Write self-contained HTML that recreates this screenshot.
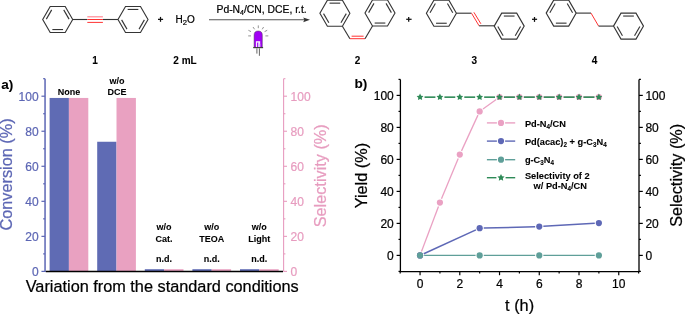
<!DOCTYPE html>
<html><head><meta charset="utf-8"><style>
html,body{margin:0;padding:0;background:#fff;width:685px;height:315px;overflow:hidden}
svg text{font-family:"Liberation Sans",sans-serif;stroke:currentColor;stroke-width:0.22px;paint-order:stroke}
svg text[font-weight="bold"]{stroke-width:0.08px}
svg{will-change:transform}
</style></head><body>
<svg width="685" height="315" viewBox="0 0 685 315" style="display:block">
<rect width="685" height="315" fill="#fff"/>
<polygon points="72.7,19.5 65.2,6.51 50.2,6.51 42.7,19.5 50.2,32.49 65.2,32.49" fill="none" stroke="#353535" stroke-width="1.12" stroke-linejoin="miter"/>
<line x1="69.07" y1="19.1" x2="63.73" y2="9.86" stroke="#353535" stroke-width="1.12"/>
<line x1="51.67" y1="9.86" x2="46.33" y2="19.1" stroke="#353535" stroke-width="1.12"/>
<line x1="52.36" y1="29.55" x2="63.04" y2="29.55" stroke="#353535" stroke-width="1.12"/>
<line x1="72.7" y1="19.5" x2="87.3" y2="19.5" stroke="#353535" stroke-width="1.12"/>
<line x1="102.9" y1="19.5" x2="118" y2="19.5" stroke="#353535" stroke-width="1.12"/>
<line x1="87.3" y1="16.8" x2="102.9" y2="16.8" stroke="#ff8a95" stroke-width="1.2"/>
<line x1="87.3" y1="19.5" x2="102.9" y2="19.5" stroke="#ff3333" stroke-width="1.0"/>
<line x1="87.3" y1="22.4" x2="102.9" y2="22.4" stroke="#ff3333" stroke-width="1.0"/>
<polygon points="148,19.5 140.5,6.51 125.5,6.51 118,19.5 125.5,32.49 140.5,32.49" fill="none" stroke="#353535" stroke-width="1.12" stroke-linejoin="miter"/>
<line x1="138.34" y1="9.45" x2="127.66" y2="9.45" stroke="#353535" stroke-width="1.12"/>
<line x1="121.63" y1="19.9" x2="126.97" y2="29.14" stroke="#353535" stroke-width="1.12"/>
<line x1="139.03" y1="29.14" x2="144.37" y2="19.9" stroke="#353535" stroke-width="1.12"/>
<line x1="158" y1="19.35" x2="163.1" y2="19.35" stroke="#111" stroke-width="1.25"/>
<line x1="160.5" y1="16.9" x2="160.5" y2="21.8" stroke="#111" stroke-width="1.25"/>
<text x="175.6" y="23" font-size="10" text-anchor="start" font-weight="normal" fill="#000" color="#000">H<tspan font-size="7.6" dy="2.3">2</tspan><tspan dy="-2.3">O</tspan></text>
<line x1="209" y1="19.8" x2="305" y2="19.8" stroke="#555" stroke-width="1.1"/>
<polygon points="310,19.8 303.2,17.4 304.4,19.8 303.2,22.2" fill="#333"/>
<text x="216.5" y="12.7" font-size="10.35" text-anchor="start" font-weight="normal" fill="#000" color="#000">Pd-N<tspan font-size="7" dy="2.2">4</tspan><tspan dy="-2.2">/CN, DCE, r.t.</tspan></text>
<g>
<line x1="258.3" y1="25.4" x2="258.3" y2="28.2" stroke="#888" stroke-width="0.9"/>
<line x1="253" y1="27" x2="254.6" y2="29.3" stroke="#888" stroke-width="0.9"/>
<line x1="263.6" y1="27" x2="262.2" y2="29.3" stroke="#888" stroke-width="0.9"/>
<line x1="248.4" y1="30.3" x2="251" y2="31.6" stroke="#888" stroke-width="0.9"/>
<line x1="267.2" y1="30.3" x2="264.6" y2="31.6" stroke="#888" stroke-width="0.9"/>
<line x1="248.2" y1="35.9" x2="251" y2="35.9" stroke="#888" stroke-width="0.9"/>
<line x1="265.4" y1="35.9" x2="268.3" y2="35.9" stroke="#888" stroke-width="0.9"/>
<path d="M254.1,47.3 L254.1,35.1 A4.1,4.1 0 0 1 262.3,35.1 L262.3,47.3 Z" fill="#a100f5" stroke="#4a3a55" stroke-width="0.5"/>
<rect x="255.9" y="41.2" width="4.3" height="5.9" fill="#f4eefc"/>
<rect x="257.1" y="42.6" width="1.2" height="4.5" fill="#a100f5"/>
<path d="M258.3,42.3 L260.2,44.6 L260.2,47.1 L258.3,47.1 Z" fill="#d9c2fb"/>
<rect x="253.2" y="47" width="9.9" height="1.2" fill="#3d3d3d"/>
<line x1="256.9" y1="48.3" x2="256.9" y2="53.6" stroke="#666" stroke-width="1.0"/>
<line x1="259.4" y1="48.3" x2="259.4" y2="55.8" stroke="#666" stroke-width="1.0"/>
</g>
<polygon points="349.9,13.2 342.4,0.21 327.4,0.21 319.9,13.2 327.4,26.19 342.4,26.19" fill="none" stroke="#353535" stroke-width="1.12" stroke-linejoin="miter"/>
<line x1="340.24" y1="3.15" x2="329.56" y2="3.15" stroke="#353535" stroke-width="1.12"/>
<line x1="323.53" y1="13.6" x2="328.87" y2="22.84" stroke="#353535" stroke-width="1.12"/>
<line x1="340.93" y1="22.84" x2="346.27" y2="13.6" stroke="#353535" stroke-width="1.12"/>
<line x1="342.4" y1="26.2" x2="349.9" y2="38.7" stroke="#353535" stroke-width="1.12"/>
<line x1="349.9" y1="38.7" x2="365" y2="38.7" stroke="#ff3333" stroke-width="1.0"/>
<line x1="351.6" y1="36.2" x2="363.6" y2="36.2" stroke="#ff3333" stroke-width="1.0"/>
<line x1="365" y1="38.7" x2="372.5" y2="26" stroke="#353535" stroke-width="1.12"/>
<polygon points="395,13 387.5,0.01 372.5,0.01 365,13 372.5,25.99 387.5,25.99" fill="none" stroke="#353535" stroke-width="1.12" stroke-linejoin="miter"/>
<line x1="391.37" y1="12.6" x2="386.03" y2="3.36" stroke="#353535" stroke-width="1.12"/>
<line x1="373.97" y1="3.36" x2="368.63" y2="12.6" stroke="#353535" stroke-width="1.12"/>
<line x1="374.66" y1="23.05" x2="385.34" y2="23.05" stroke="#353535" stroke-width="1.12"/>
<line x1="406.2" y1="19.3" x2="411.6" y2="19.3" stroke="#111" stroke-width="1.25"/>
<line x1="408.7" y1="16.9" x2="408.7" y2="21.8" stroke="#111" stroke-width="1.25"/>
<polygon points="456.4,13.2 448.9,0.21 433.9,0.21 426.4,13.2 433.9,26.19 448.9,26.19" fill="none" stroke="#353535" stroke-width="1.12" stroke-linejoin="miter"/>
<line x1="452.77" y1="12.8" x2="447.43" y2="3.56" stroke="#353535" stroke-width="1.12"/>
<line x1="435.37" y1="3.56" x2="430.03" y2="12.8" stroke="#353535" stroke-width="1.12"/>
<line x1="436.06" y1="23.25" x2="446.74" y2="23.25" stroke="#353535" stroke-width="1.12"/>
<line x1="456.4" y1="13.2" x2="471.5" y2="13.2" stroke="#353535" stroke-width="1.12"/>
<line x1="471.5" y1="13.2" x2="479.1" y2="25.8" stroke="#ff3333" stroke-width="1.0"/>
<line x1="473.9" y1="12.3" x2="480.9" y2="23.8" stroke="#ff3333" stroke-width="1.0"/>
<line x1="479.1" y1="25.8" x2="494.2" y2="25.8" stroke="#353535" stroke-width="1.12"/>
<polygon points="524.2,26.1 516.7,13.11 501.7,13.11 494.2,26.1 501.7,39.09 516.7,39.09" fill="none" stroke="#353535" stroke-width="1.12" stroke-linejoin="miter"/>
<line x1="514.54" y1="16.05" x2="503.86" y2="16.05" stroke="#353535" stroke-width="1.12"/>
<line x1="497.83" y1="26.5" x2="503.17" y2="35.74" stroke="#353535" stroke-width="1.12"/>
<line x1="515.23" y1="35.74" x2="520.57" y2="26.5" stroke="#353535" stroke-width="1.12"/>
<line x1="532" y1="19.3" x2="537.1" y2="19.3" stroke="#111" stroke-width="1.25"/>
<line x1="534.5" y1="17" x2="534.5" y2="21.9" stroke="#111" stroke-width="1.25"/>
<polygon points="576.2,13.1 568.7,0.11 553.7,0.11 546.2,13.1 553.7,26.09 568.7,26.09" fill="none" stroke="#353535" stroke-width="1.12" stroke-linejoin="miter"/>
<line x1="572.57" y1="12.7" x2="567.23" y2="3.46" stroke="#353535" stroke-width="1.12"/>
<line x1="555.17" y1="3.46" x2="549.83" y2="12.7" stroke="#353535" stroke-width="1.12"/>
<line x1="555.86" y1="23.15" x2="566.54" y2="23.15" stroke="#353535" stroke-width="1.12"/>
<line x1="576.2" y1="13.1" x2="591" y2="13.1" stroke="#353535" stroke-width="1.12"/>
<line x1="591" y1="13.1" x2="598.6" y2="26.1" stroke="#ff3333" stroke-width="1.0"/>
<line x1="598.6" y1="26.1" x2="613.5" y2="26.1" stroke="#353535" stroke-width="1.12"/>
<polygon points="643.5,26.1 636,13.11 621,13.11 613.5,26.1 621,39.09 636,39.09" fill="none" stroke="#353535" stroke-width="1.12" stroke-linejoin="miter"/>
<line x1="633.84" y1="16.05" x2="623.16" y2="16.05" stroke="#353535" stroke-width="1.12"/>
<line x1="617.13" y1="26.5" x2="622.47" y2="35.74" stroke="#353535" stroke-width="1.12"/>
<line x1="634.53" y1="35.74" x2="639.87" y2="26.5" stroke="#353535" stroke-width="1.12"/>
<text x="95" y="63.5" font-size="10" text-anchor="middle" font-weight="bold" fill="#000" color="#000">1</text>
<text x="185" y="63.5" font-size="10" text-anchor="middle" font-weight="bold" fill="#000" color="#000">2 mL</text>
<text x="357.6" y="63.5" font-size="10" text-anchor="middle" font-weight="bold" fill="#000" color="#000">2</text>
<text x="474.3" y="63.5" font-size="10" text-anchor="middle" font-weight="bold" fill="#000" color="#000">3</text>
<text x="594.6" y="63.5" font-size="10" text-anchor="middle" font-weight="bold" fill="#000" color="#000">4</text>
<text x="1.3" y="88.6" font-size="13.6" text-anchor="start" font-weight="bold" fill="#000" color="#000">a)</text>
<rect x="49.6" y="97.95" width="19.3" height="173.45" fill="#5f6bb4"/>
<rect x="68.9" y="97.95" width="19.4" height="173.45" fill="#e9a1c1"/>
<rect x="97.2" y="141.75" width="19.3" height="129.65" fill="#5f6bb4"/>
<rect x="116.5" y="97.95" width="19.4" height="173.45" fill="#e9a1c1"/>
<rect x="144.8" y="269.21" width="19.3" height="2.19" fill="#5f6bb4"/>
<rect x="164.1" y="269.21" width="19.4" height="2.19" fill="#e9a1c1"/>
<rect x="192.4" y="269.21" width="19.3" height="2.19" fill="#5f6bb4"/>
<rect x="211.7" y="269.21" width="19.4" height="2.19" fill="#e9a1c1"/>
<rect x="240" y="269.21" width="19.3" height="2.19" fill="#5f6bb4"/>
<rect x="259.3" y="269.21" width="19.4" height="2.19" fill="#e9a1c1"/>
<line x1="45.05" y1="78.7" x2="45.05" y2="272.1" stroke="#5c66b4" stroke-width="1.5"/>
<line x1="41.45" y1="271.4" x2="45.05" y2="271.4" stroke="#5c66b4" stroke-width="1.2"/>
<text x="38.6" y="275.7" font-size="12" text-anchor="end" font-weight="normal" fill="#5c66b4" color="#5c66b4">0</text>
<line x1="43.15" y1="253.88" x2="45.05" y2="253.88" stroke="#5c66b4" stroke-width="1.2"/>
<line x1="41.45" y1="236.36" x2="45.05" y2="236.36" stroke="#5c66b4" stroke-width="1.2"/>
<text x="38.6" y="240.66" font-size="12" text-anchor="end" font-weight="normal" fill="#5c66b4" color="#5c66b4">20</text>
<line x1="43.15" y1="218.84" x2="45.05" y2="218.84" stroke="#5c66b4" stroke-width="1.2"/>
<line x1="41.45" y1="201.32" x2="45.05" y2="201.32" stroke="#5c66b4" stroke-width="1.2"/>
<text x="38.6" y="205.62" font-size="12" text-anchor="end" font-weight="normal" fill="#5c66b4" color="#5c66b4">40</text>
<line x1="43.15" y1="183.8" x2="45.05" y2="183.8" stroke="#5c66b4" stroke-width="1.2"/>
<line x1="41.45" y1="166.28" x2="45.05" y2="166.28" stroke="#5c66b4" stroke-width="1.2"/>
<text x="38.6" y="170.58" font-size="12" text-anchor="end" font-weight="normal" fill="#5c66b4" color="#5c66b4">60</text>
<line x1="43.15" y1="148.76" x2="45.05" y2="148.76" stroke="#5c66b4" stroke-width="1.2"/>
<line x1="41.45" y1="131.24" x2="45.05" y2="131.24" stroke="#5c66b4" stroke-width="1.2"/>
<text x="38.6" y="135.54" font-size="12" text-anchor="end" font-weight="normal" fill="#5c66b4" color="#5c66b4">80</text>
<line x1="43.15" y1="113.72" x2="45.05" y2="113.72" stroke="#5c66b4" stroke-width="1.2"/>
<line x1="41.45" y1="96.2" x2="45.05" y2="96.2" stroke="#5c66b4" stroke-width="1.2"/>
<text x="38.6" y="100.5" font-size="12" text-anchor="end" font-weight="normal" fill="#5c66b4" color="#5c66b4">100</text>
<line x1="43.15" y1="78.68" x2="45.05" y2="78.68" stroke="#5c66b4" stroke-width="1.2"/>
<line x1="283.6" y1="78.7" x2="283.6" y2="271.4" stroke="#e79cbf" stroke-width="1.1"/>
<line x1="283.6" y1="271.4" x2="287" y2="271.4" stroke="#e79cbf" stroke-width="1.1"/>
<text x="290.6" y="275.7" font-size="12" text-anchor="start" font-weight="normal" fill="#e79cbf" color="#e79cbf">0</text>
<line x1="283.6" y1="253.88" x2="285.4" y2="253.88" stroke="#e79cbf" stroke-width="1.1"/>
<line x1="283.6" y1="236.36" x2="287" y2="236.36" stroke="#e79cbf" stroke-width="1.1"/>
<text x="290.6" y="240.66" font-size="12" text-anchor="start" font-weight="normal" fill="#e79cbf" color="#e79cbf">20</text>
<line x1="283.6" y1="218.84" x2="285.4" y2="218.84" stroke="#e79cbf" stroke-width="1.1"/>
<line x1="283.6" y1="201.32" x2="287" y2="201.32" stroke="#e79cbf" stroke-width="1.1"/>
<text x="290.6" y="205.62" font-size="12" text-anchor="start" font-weight="normal" fill="#e79cbf" color="#e79cbf">40</text>
<line x1="283.6" y1="183.8" x2="285.4" y2="183.8" stroke="#e79cbf" stroke-width="1.1"/>
<line x1="283.6" y1="166.28" x2="287" y2="166.28" stroke="#e79cbf" stroke-width="1.1"/>
<text x="290.6" y="170.58" font-size="12" text-anchor="start" font-weight="normal" fill="#e79cbf" color="#e79cbf">60</text>
<line x1="283.6" y1="148.76" x2="285.4" y2="148.76" stroke="#e79cbf" stroke-width="1.1"/>
<line x1="283.6" y1="131.24" x2="287" y2="131.24" stroke="#e79cbf" stroke-width="1.1"/>
<text x="290.6" y="135.54" font-size="12" text-anchor="start" font-weight="normal" fill="#e79cbf" color="#e79cbf">80</text>
<line x1="283.6" y1="113.72" x2="285.4" y2="113.72" stroke="#e79cbf" stroke-width="1.1"/>
<line x1="283.6" y1="96.2" x2="287" y2="96.2" stroke="#e79cbf" stroke-width="1.1"/>
<text x="290.6" y="100.5" font-size="12" text-anchor="start" font-weight="normal" fill="#e79cbf" color="#e79cbf">100</text>
<line x1="283.6" y1="78.68" x2="285.4" y2="78.68" stroke="#e79cbf" stroke-width="1.1"/>
<line x1="45.8" y1="271.5" x2="283" y2="271.5" stroke="#000" stroke-width="1.3"/>
<text x="68.9" y="94.9" font-size="9" text-anchor="middle" font-weight="bold" fill="#000" color="#000">None</text>
<text x="117" y="83.9" font-size="9" text-anchor="middle" font-weight="bold" fill="#000" color="#000">w/o</text>
<text x="117.1" y="95" font-size="9" text-anchor="middle" font-weight="bold" fill="#000" color="#000">DCE</text>
<text x="164.1" y="230.3" font-size="9" text-anchor="middle" font-weight="bold" fill="#000" color="#000">w/o</text>
<text x="164.1" y="241.7" font-size="9" text-anchor="middle" font-weight="bold" fill="#000" color="#000">Cat.</text>
<text x="164.1" y="261.8" font-size="9" text-anchor="middle" font-weight="bold" fill="#000" color="#000">n.d.</text>
<text x="211.7" y="230.3" font-size="9" text-anchor="middle" font-weight="bold" fill="#000" color="#000">w/o</text>
<text x="211.7" y="241.7" font-size="9" text-anchor="middle" font-weight="bold" fill="#000" color="#000">TEOA</text>
<text x="211.7" y="261.8" font-size="9" text-anchor="middle" font-weight="bold" fill="#000" color="#000">n.d.</text>
<text x="259.3" y="230.3" font-size="9" text-anchor="middle" font-weight="bold" fill="#000" color="#000">w/o</text>
<text x="259.3" y="241.7" font-size="9" text-anchor="middle" font-weight="bold" fill="#000" color="#000">Light</text>
<text x="259.3" y="261.8" font-size="9" text-anchor="middle" font-weight="bold" fill="#000" color="#000">n.d.</text>
<text x="162.2" y="291.7" font-size="16.3" text-anchor="middle" font-weight="normal" fill="#000" color="#000">Variation from the standard conditions</text>
<text transform="translate(12.1,174.5) rotate(-90)" font-size="16.3" text-anchor="middle" fill="#5c66b4" color="#5c66b4">Conversion (%)</text>
<text transform="translate(325.6,175.8) rotate(-90)" font-size="16.3" text-anchor="middle" fill="#e79cbf" color="#e79cbf">Selectivity (%)</text>
<text x="354.5" y="88.2" font-size="13.6" text-anchor="start" font-weight="bold" fill="#000" color="#000">b)</text>
<line x1="400.4" y1="79.4" x2="400.4" y2="271.6" stroke="#000" stroke-width="1.3"/>
<line x1="639" y1="79.4" x2="639" y2="271.6" stroke="#000" stroke-width="1.3"/>
<line x1="399.8" y1="271.6" x2="639.6" y2="271.6" stroke="#000" stroke-width="1.3"/>
<line x1="398.5" y1="271.4" x2="400.4" y2="271.4" stroke="#000" stroke-width="1.2"/>
<line x1="639" y1="271.4" x2="640.9" y2="271.4" stroke="#000" stroke-width="1.2"/>
<line x1="396.6" y1="255.4" x2="400.4" y2="255.4" stroke="#000" stroke-width="1.2"/>
<line x1="639" y1="255.4" x2="642.8" y2="255.4" stroke="#000" stroke-width="1.2"/>
<text x="393.8" y="259.7" font-size="12" text-anchor="end" font-weight="normal" fill="#000" color="#000">0</text>
<text x="645.4" y="259.7" font-size="12" text-anchor="start" font-weight="normal" fill="#000" color="#000">0</text>
<line x1="398.5" y1="239.4" x2="400.4" y2="239.4" stroke="#000" stroke-width="1.2"/>
<line x1="639" y1="239.4" x2="640.9" y2="239.4" stroke="#000" stroke-width="1.2"/>
<line x1="396.6" y1="223.4" x2="400.4" y2="223.4" stroke="#000" stroke-width="1.2"/>
<line x1="639" y1="223.4" x2="642.8" y2="223.4" stroke="#000" stroke-width="1.2"/>
<text x="393.8" y="227.7" font-size="12" text-anchor="end" font-weight="normal" fill="#000" color="#000">20</text>
<text x="645.4" y="227.7" font-size="12" text-anchor="start" font-weight="normal" fill="#000" color="#000">20</text>
<line x1="398.5" y1="207.4" x2="400.4" y2="207.4" stroke="#000" stroke-width="1.2"/>
<line x1="639" y1="207.4" x2="640.9" y2="207.4" stroke="#000" stroke-width="1.2"/>
<line x1="396.6" y1="191.4" x2="400.4" y2="191.4" stroke="#000" stroke-width="1.2"/>
<line x1="639" y1="191.4" x2="642.8" y2="191.4" stroke="#000" stroke-width="1.2"/>
<text x="393.8" y="195.7" font-size="12" text-anchor="end" font-weight="normal" fill="#000" color="#000">40</text>
<text x="645.4" y="195.7" font-size="12" text-anchor="start" font-weight="normal" fill="#000" color="#000">40</text>
<line x1="398.5" y1="175.4" x2="400.4" y2="175.4" stroke="#000" stroke-width="1.2"/>
<line x1="639" y1="175.4" x2="640.9" y2="175.4" stroke="#000" stroke-width="1.2"/>
<line x1="396.6" y1="159.4" x2="400.4" y2="159.4" stroke="#000" stroke-width="1.2"/>
<line x1="639" y1="159.4" x2="642.8" y2="159.4" stroke="#000" stroke-width="1.2"/>
<text x="393.8" y="163.7" font-size="12" text-anchor="end" font-weight="normal" fill="#000" color="#000">60</text>
<text x="645.4" y="163.7" font-size="12" text-anchor="start" font-weight="normal" fill="#000" color="#000">60</text>
<line x1="398.5" y1="143.4" x2="400.4" y2="143.4" stroke="#000" stroke-width="1.2"/>
<line x1="639" y1="143.4" x2="640.9" y2="143.4" stroke="#000" stroke-width="1.2"/>
<line x1="396.6" y1="127.4" x2="400.4" y2="127.4" stroke="#000" stroke-width="1.2"/>
<line x1="639" y1="127.4" x2="642.8" y2="127.4" stroke="#000" stroke-width="1.2"/>
<text x="393.8" y="131.7" font-size="12" text-anchor="end" font-weight="normal" fill="#000" color="#000">80</text>
<text x="645.4" y="131.7" font-size="12" text-anchor="start" font-weight="normal" fill="#000" color="#000">80</text>
<line x1="398.5" y1="111.4" x2="400.4" y2="111.4" stroke="#000" stroke-width="1.2"/>
<line x1="639" y1="111.4" x2="640.9" y2="111.4" stroke="#000" stroke-width="1.2"/>
<line x1="396.6" y1="95.4" x2="400.4" y2="95.4" stroke="#000" stroke-width="1.2"/>
<line x1="639" y1="95.4" x2="642.8" y2="95.4" stroke="#000" stroke-width="1.2"/>
<text x="393.8" y="99.7" font-size="12" text-anchor="end" font-weight="normal" fill="#000" color="#000">100</text>
<text x="645.4" y="99.7" font-size="12" text-anchor="start" font-weight="normal" fill="#000" color="#000">100</text>
<line x1="398.5" y1="79.4" x2="400.4" y2="79.4" stroke="#000" stroke-width="1.2"/>
<line x1="639" y1="79.4" x2="640.9" y2="79.4" stroke="#000" stroke-width="1.2"/>
<line x1="400.18" y1="271.6" x2="400.18" y2="273.4" stroke="#000" stroke-width="1.2"/>
<line x1="420.05" y1="271.6" x2="420.05" y2="275.2" stroke="#000" stroke-width="1.2"/>
<text x="420.05" y="287.8" font-size="12" text-anchor="middle" font-weight="normal" fill="#000" color="#000">0</text>
<line x1="439.92" y1="271.6" x2="439.92" y2="273.4" stroke="#000" stroke-width="1.2"/>
<line x1="459.79" y1="271.6" x2="459.79" y2="275.2" stroke="#000" stroke-width="1.2"/>
<text x="459.79" y="287.8" font-size="12" text-anchor="middle" font-weight="normal" fill="#000" color="#000">2</text>
<line x1="479.66" y1="271.6" x2="479.66" y2="273.4" stroke="#000" stroke-width="1.2"/>
<line x1="499.53" y1="271.6" x2="499.53" y2="275.2" stroke="#000" stroke-width="1.2"/>
<text x="499.53" y="287.8" font-size="12" text-anchor="middle" font-weight="normal" fill="#000" color="#000">4</text>
<line x1="519.4" y1="271.6" x2="519.4" y2="273.4" stroke="#000" stroke-width="1.2"/>
<line x1="539.27" y1="271.6" x2="539.27" y2="275.2" stroke="#000" stroke-width="1.2"/>
<text x="539.27" y="287.8" font-size="12" text-anchor="middle" font-weight="normal" fill="#000" color="#000">6</text>
<line x1="559.14" y1="271.6" x2="559.14" y2="273.4" stroke="#000" stroke-width="1.2"/>
<line x1="579.01" y1="271.6" x2="579.01" y2="275.2" stroke="#000" stroke-width="1.2"/>
<text x="579.01" y="287.8" font-size="12" text-anchor="middle" font-weight="normal" fill="#000" color="#000">8</text>
<line x1="598.88" y1="271.6" x2="598.88" y2="273.4" stroke="#000" stroke-width="1.2"/>
<line x1="618.75" y1="271.6" x2="618.75" y2="275.2" stroke="#000" stroke-width="1.2"/>
<text x="618.75" y="287.8" font-size="12" text-anchor="middle" font-weight="normal" fill="#000" color="#000">10</text>
<line x1="638.62" y1="271.6" x2="638.62" y2="273.4" stroke="#000" stroke-width="1.2"/>
<text x="519.6" y="311.2" font-size="16.3" text-anchor="middle" font-weight="normal" fill="#000" color="#000">t (h)</text>
<text transform="translate(366.6,175.6) rotate(-90)" font-size="16.3" text-anchor="middle" fill="#000">Yield (%)</text>
<text transform="translate(681.6,175.3) rotate(-90)" font-size="16.3" text-anchor="middle" fill="#000">Selectivity (%)</text>
<line x1="421.49" y1="251.56" x2="438.48" y2="206.44" stroke="#eaa1c3" stroke-width="1.3"/>
<line x1="441.49" y1="198.81" x2="458.22" y2="158.39" stroke="#eaa1c3" stroke-width="1.3"/>
<line x1="461.5" y1="150.88" x2="477.95" y2="115.12" stroke="#eaa1c3" stroke-width="1.3"/>
<line x1="482.98" y1="108.99" x2="496.21" y2="99.41" stroke="#eaa1c3" stroke-width="1.3"/>
<line x1="503.63" y1="97" x2="515.3" y2="97" stroke="#eaa1c3" stroke-width="1.3"/>
<line x1="523.5" y1="97" x2="535.17" y2="97" stroke="#eaa1c3" stroke-width="1.3"/>
<line x1="543.37" y1="97" x2="555.04" y2="97" stroke="#eaa1c3" stroke-width="1.3"/>
<line x1="563.24" y1="97" x2="574.91" y2="97" stroke="#eaa1c3" stroke-width="1.3"/>
<line x1="583.11" y1="97" x2="594.78" y2="97" stroke="#eaa1c3" stroke-width="1.3"/>
<circle cx="420.05" cy="255.4" r="3.1" fill="#eaa1c3"/>
<circle cx="439.92" cy="202.6" r="3.1" fill="#eaa1c3"/>
<circle cx="459.79" cy="154.6" r="3.1" fill="#eaa1c3"/>
<circle cx="479.66" cy="111.4" r="3.1" fill="#eaa1c3"/>
<circle cx="499.53" cy="97" r="3.1" fill="#eaa1c3"/>
<circle cx="519.4" cy="97" r="3.1" fill="#eaa1c3"/>
<circle cx="539.27" cy="97" r="3.1" fill="#eaa1c3"/>
<circle cx="559.14" cy="97" r="3.1" fill="#eaa1c3"/>
<circle cx="579.01" cy="97" r="3.1" fill="#eaa1c3"/>
<circle cx="598.88" cy="97" r="3.1" fill="#eaa1c3"/>
<line x1="423.78" y1="253.7" x2="475.93" y2="229.9" stroke="#5e68b6" stroke-width="1.5"/>
<line x1="483.76" y1="228.09" x2="535.17" y2="226.71" stroke="#5e68b6" stroke-width="1.5"/>
<line x1="543.36" y1="226.36" x2="594.79" y2="223.32" stroke="#5e68b6" stroke-width="1.5"/>
<circle cx="420.05" cy="255.4" r="3.1" fill="#5e68b6"/>
<circle cx="479.66" cy="228.2" r="3.1" fill="#5e68b6"/>
<circle cx="539.27" cy="226.6" r="3.1" fill="#5e68b6"/>
<circle cx="598.88" cy="223.08" r="3.1" fill="#5e68b6"/>
<line x1="424.15" y1="255.4" x2="475.56" y2="255.4" stroke="#5f9f99" stroke-width="1.3"/>
<line x1="483.76" y1="255.4" x2="535.17" y2="255.4" stroke="#5f9f99" stroke-width="1.3"/>
<line x1="543.37" y1="255.4" x2="594.78" y2="255.4" stroke="#5f9f99" stroke-width="1.3"/>
<circle cx="420.05" cy="255.4" r="3.1" fill="#5f9f99"/>
<circle cx="479.66" cy="255.4" r="3.1" fill="#5f9f99"/>
<circle cx="539.27" cy="255.4" r="3.1" fill="#5f9f99"/>
<circle cx="598.88" cy="255.4" r="3.1" fill="#5f9f99"/>
<line x1="424.55" y1="97.16" x2="435.42" y2="97.16" stroke="#2e8a57" stroke-width="1.6"/>
<line x1="444.42" y1="97.16" x2="455.29" y2="97.16" stroke="#2e8a57" stroke-width="1.6"/>
<line x1="464.29" y1="97.16" x2="475.16" y2="97.16" stroke="#2e8a57" stroke-width="1.6"/>
<line x1="484.16" y1="97.16" x2="495.03" y2="97.16" stroke="#2e8a57" stroke-width="1.6"/>
<line x1="504.03" y1="97.16" x2="514.9" y2="97.16" stroke="#2e8a57" stroke-width="1.6"/>
<line x1="523.9" y1="97.16" x2="534.77" y2="97.16" stroke="#2e8a57" stroke-width="1.6"/>
<line x1="543.77" y1="97.16" x2="554.64" y2="97.16" stroke="#2e8a57" stroke-width="1.6"/>
<line x1="563.64" y1="97.16" x2="574.51" y2="97.16" stroke="#2e8a57" stroke-width="1.6"/>
<line x1="583.51" y1="97.16" x2="594.38" y2="97.16" stroke="#2e8a57" stroke-width="1.6"/>
<polygon points="420.05,93.61 421.14,95.67 423.43,96.06 421.81,97.73 422.14,100.03 420.05,99.01 417.96,100.03 418.29,97.73 416.67,96.06 418.96,95.67" fill="#2e8a57"/>
<polygon points="439.92,93.61 441.01,95.67 443.3,96.06 441.68,97.73 442.01,100.03 439.92,99.01 437.83,100.03 438.16,97.73 436.54,96.06 438.83,95.67" fill="#2e8a57"/>
<polygon points="459.79,93.61 460.88,95.67 463.17,96.06 461.55,97.73 461.88,100.03 459.79,99.01 457.7,100.03 458.03,97.73 456.41,96.06 458.7,95.67" fill="#2e8a57"/>
<polygon points="479.66,93.61 480.75,95.67 483.04,96.06 481.42,97.73 481.75,100.03 479.66,99.01 477.57,100.03 477.9,97.73 476.28,96.06 478.57,95.67" fill="#2e8a57"/>
<polygon points="499.53,93.61 500.62,95.67 502.91,96.06 501.29,97.73 501.62,100.03 499.53,99.01 497.44,100.03 497.77,97.73 496.15,96.06 498.44,95.67" fill="#2e8a57"/>
<polygon points="519.4,93.61 520.49,95.67 522.78,96.06 521.16,97.73 521.49,100.03 519.4,99.01 517.31,100.03 517.64,97.73 516.02,96.06 518.31,95.67" fill="#2e8a57"/>
<polygon points="539.27,93.61 540.36,95.67 542.65,96.06 541.03,97.73 541.36,100.03 539.27,99.01 537.18,100.03 537.51,97.73 535.89,96.06 538.18,95.67" fill="#2e8a57"/>
<polygon points="559.14,93.61 560.23,95.67 562.52,96.06 560.9,97.73 561.23,100.03 559.14,99.01 557.05,100.03 557.38,97.73 555.76,96.06 558.05,95.67" fill="#2e8a57"/>
<polygon points="579.01,93.61 580.1,95.67 582.39,96.06 580.77,97.73 581.1,100.03 579.01,99.01 576.92,100.03 577.25,97.73 575.63,96.06 577.92,95.67" fill="#2e8a57"/>
<polygon points="598.88,93.61 599.97,95.67 602.26,96.06 600.64,97.73 600.97,100.03 598.88,99.01 596.79,100.03 597.12,97.73 595.5,96.06 597.79,95.67" fill="#2e8a57"/>
<line x1="486.9" y1="122.9" x2="496.9" y2="122.9" stroke="#eaa1c3" stroke-width="1.4"/>
<line x1="505.1" y1="122.9" x2="515.2" y2="122.9" stroke="#eaa1c3" stroke-width="1.4"/>
<circle cx="501.0" cy="122.9" r="3.1" fill="#eaa1c3"/>
<line x1="486.9" y1="141.1" x2="496.9" y2="141.1" stroke="#5e68b6" stroke-width="1.4"/>
<line x1="505.1" y1="141.1" x2="515.2" y2="141.1" stroke="#5e68b6" stroke-width="1.4"/>
<circle cx="501.0" cy="141.1" r="3.1" fill="#5e68b6"/>
<line x1="486.9" y1="159.7" x2="496.9" y2="159.7" stroke="#5f9f99" stroke-width="1.4"/>
<line x1="505.1" y1="159.7" x2="515.2" y2="159.7" stroke="#5f9f99" stroke-width="1.4"/>
<circle cx="501.0" cy="159.7" r="3.1" fill="#5f9f99"/>
<line x1="486.9" y1="177.7" x2="496.4" y2="177.7" stroke="#2e8a57" stroke-width="1.4"/>
<line x1="505.6" y1="177.7" x2="515.2" y2="177.7" stroke="#2e8a57" stroke-width="1.4"/>
<polygon points="501,174 502.13,176.14 504.52,176.56 502.83,178.29 503.17,180.69 501,179.62 498.83,180.69 499.17,178.29 497.48,176.56 499.87,176.14" fill="#2e8a57"/>
<text x="524.9" y="126.7" font-size="9.25" text-anchor="start" font-weight="bold" fill="#000" color="#000">Pd-N<tspan font-size="6.3" dy="2">4</tspan><tspan dy="-2">/CN</tspan></text>
<text x="524.9" y="144.7" font-size="9.25" text-anchor="start" font-weight="bold" fill="#000" color="#000">Pd(acac)<tspan font-size="6.3" dy="2">2</tspan><tspan dy="-2"> + g-C</tspan><tspan font-size="6.3" dy="2">3</tspan><tspan dy="-2">N</tspan><tspan font-size="6.3" dy="2">4</tspan><tspan dy="-2"></tspan></text>
<text x="524.9" y="162.6" font-size="9.25" text-anchor="start" font-weight="bold" fill="#000" color="#000">g-C<tspan font-size="6.3" dy="2">3</tspan><tspan dy="-2">N</tspan><tspan font-size="6.3" dy="2">4</tspan><tspan dy="-2"></tspan></text>
<text x="524.9" y="178.9" font-size="9.25" text-anchor="start" font-weight="bold" fill="#000" color="#000">Selectivity of 2</text>
<text x="533.6" y="189.4" font-size="9.25" text-anchor="start" font-weight="bold" fill="#000" color="#000">w/ Pd-N<tspan font-size="6.3" dy="2">4</tspan><tspan dy="-2">/CN</tspan></text>
</svg>
</body></html>
